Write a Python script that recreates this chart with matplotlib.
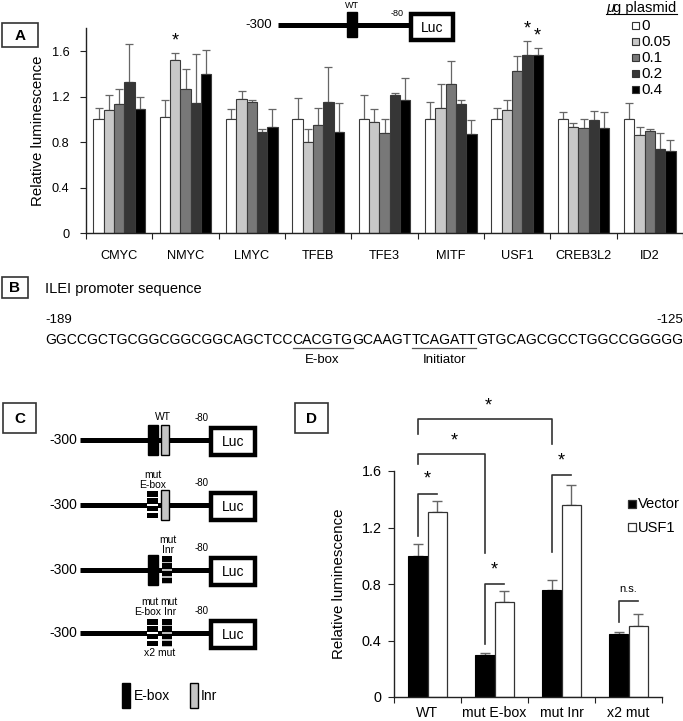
import matplotlib
matplotlib.use('Agg')
import matplotlib.pyplot as plt
from matplotlib.patches import Rectangle
import numpy as np

plt.rcParams['font.family'] = ['Liberation Sans', 'DejaVu Sans']

# ---- panel A data ----
factors = ['CMYC', 'NMYC', 'LMYC', 'TFEB', 'TFE3', 'MITF', 'USF1', 'CREB3L2', 'ID2']
doses = ['0', '0.05', '0.1', '0.2', '0.4']
dose_colors = ['#ffffff', '#c8c8c8', '#787878', '#363636', '#000000']
lum_0 = [1.00, 1.02, 1.00, 1.00, 1.00, 1.00, 1.00, 1.00, 1.00]
lum_005 = [1.08, 1.52, 1.18, 0.80, 0.98, 1.10, 1.08, 0.93, 0.86]
lum_01 = [1.13, 1.27, 1.15, 0.95, 0.88, 1.31, 1.42, 0.92, 0.90]
lum_02 = [1.33, 1.14, 0.89, 1.15, 1.21, 1.13, 1.565, 0.99, 0.74]
lum_04 = [1.09, 1.40, 0.93, 0.89, 1.17, 0.87, 1.565, 0.92, 0.72]
sd_0 = [0.10, 0.15, 0.09, 0.19, 0.21, 0.15, 0.10, 0.06, 0.14]
sd_005 = [0.13, 0.06, 0.07, 0.11, 0.11, 0.21, 0.09, 0.04, 0.07]
sd_01 = [0.14, 0.17, 0.02, 0.15, 0.12, 0.20, 0.14, 0.08, 0.01]
sd_02 = [0.33, 0.43, 0.02, 0.31, 0.02, 0.04, 0.125, 0.08, 0.14]
sd_04 = [0.11, 0.21, 0.16, 0.25, 0.19, 0.12, 0.065, 0.14, 0.10]
# significant bars: (factor index, dose index)
stars_a = [(1, 1), (6, 3), (6, 4)]

# ---- panel B ----
seq_pre = 'GGCCGCTGCGGCGGCGGCAGCTCC'
seq_ebox = 'CACGTG'
seq_mid = 'GCAAGT'
seq_inr = 'TCAGATT'
seq_post = 'GTGCAGCGCCTGGCCGGGGG'

# ---- panel D data ----
constructs = ['WT', 'mut E-box', 'mut Inr', 'x2 mut']
vector = [1.00, 0.30, 0.76, 0.445]
vector_sd = [0.08, 0.01, 0.07, 0.015]
usf1 = [1.31, 0.67, 1.36, 0.50]
usf1_sd = [0.08, 0.08, 0.14, 0.09]
# brackets: (group, y start, y top, label)
pair_brackets = [(0, 1.14, 1.44, '*'), (1, 0.375, 0.80, '*'),
                 (2, 1.025, 1.57, '*'), (3, 0.53, 0.68, 'n.s.')]
cross_brackets = [(0, 1, 1.65, 1.72, 1.02, '*'), (0, 2, 1.86, 1.965, 1.79, '*')]

W, H = 683, 721
fig = plt.figure(figsize=(W / 100, H / 100), dpi=100)


def frac(l, t, r, b):
    return [l / W, 1 - b / H, (r - l) / W, (b - t) / H]


def style_axes(ax):
    for s in ['top', 'right']:
        ax.spines[s].set_visible(False)
    for s in ['left', 'bottom']:
        ax.spines[s].set_color('#222222')
        ax.spines[s].set_linewidth(1.0)
    ax.tick_params(axis='y', direction='out', length=4, color='#222222')
    ax.tick_params(axis='x', which='major', direction='out', length=4, color='#222222')
    ax.tick_params(axis='x', which='minor', length=0)
    ax.patch.set_alpha(0)


# ================= panel A =================
axA = fig.add_axes(frac(86, 28.25, 683, 233))
style_axes(axA)
means = [lum_0, lum_005, lum_01, lum_02, lum_04]
sds = [sd_0, sd_005, sd_01, sd_02, sd_04]
bw = 0.155
xc = np.arange(len(factors)) + 0.5
for k in range(5):
    xs = xc + (k - 2) * bw
    axA.bar(xs, means[k], width=bw, color=dose_colors[k], edgecolor='#3a3a3a', linewidth=0.8, zorder=2)
    axA.errorbar(xs, means[k], yerr=[np.zeros(len(factors)), sds[k]], fmt='none',
                 ecolor='#666666', elinewidth=0.9, capsize=3, capthick=0.9, zorder=1)
for fi, di in stars_a:
    axA.text(xc[fi] + (di - 2) * bw, means[di][fi] + sds[di][fi] + 0.03, '*',
             ha='center', va='bottom', fontsize=13, clip_on=False)
axA.set_xlim(0, len(factors))
axA.set_ylim(0, 1.8)
axA.set_xticks(np.arange(len(factors) + 1))
axA.set_xticklabels([])
axA.set_xticks(xc, minor=True)
axA.set_xticklabels(factors, minor=True, fontsize=9.2)
axA.tick_params(axis='x', which='minor', pad=12)
axA.set_yticks([0, 0.4, 0.8, 1.2, 1.6])
axA.set_yticklabels(['0', '0.4', '0.8', '1.2', '1.6'], fontsize=9.2)
axA.tick_params(axis='y', pad=8)
axA.set_ylabel('Relative luminescence', fontsize=10.8, labelpad=5)

# ================= panel D =================
axD = fig.add_axes(frac(394, 471, 662, 697))
style_axes(axD)
bwd = 0.29
xd = np.arange(len(constructs)) + 0.5
axD.bar(xd - bwd / 2, vector, width=bwd, color='black', edgecolor='black', linewidth=0.8, zorder=2)
axD.bar(xd + bwd / 2, usf1, width=bwd, color='white', edgecolor='#333333', linewidth=0.9, zorder=2)
axD.errorbar(xd - bwd / 2, vector, yerr=[np.zeros(4), vector_sd], fmt='none', ecolor='#666666',
             elinewidth=1.0, capsize=3.5, capthick=1.0, zorder=1)
axD.errorbar(xd + bwd / 2, usf1, yerr=[np.zeros(4), usf1_sd], fmt='none', ecolor='#666666',
             elinewidth=1.0, capsize=3.5, capthick=1.0, zorder=1)
axD.set_xlim(0, len(constructs))
axD.set_ylim(0, 1.6)
axD.set_xticks(np.arange(len(constructs) + 1))
axD.set_xticklabels([])
axD.set_xticks(xd, minor=True)
axD.set_xticklabels(constructs, minor=True, fontsize=10.2)
axD.tick_params(axis='x', which='minor', pad=6.5)
axD.set_yticks([0, 0.4, 0.8, 1.2, 1.6])
axD.set_yticklabels(['0', '0.4', '0.8', '1.2', '1.6'], fontsize=10.4)
axD.tick_params(axis='y', pad=5)
axD.set_ylabel('Relative luminescence', fontsize=10.8, labelpad=11)
bk = dict(color='#333333', lw=1.2, clip_on=False)
for gi, y0, y1, lab in pair_brackets:
    xa, xb = xd[gi] - bwd / 2, xd[gi] + bwd / 2
    axD.plot([xa, xa, xb], [y0, y1, y1], **bk)
    if lab == '*':
        axD.text((xa + xb) / 2, y1 + 0.04, '*', ha='center', va='bottom', fontsize=13)
    else:
        axD.text((xa + xb) / 2, y1 + 0.05, lab, ha='center', va='bottom', fontsize=8)
for ga, gb, y0, y1, y2, lab in cross_brackets:
    xa, xb = xd[ga] - bwd / 2, xd[gb] - bwd / 2
    axD.plot([xa, xa, xb, xb], [y0, y1, y1, y2], **bk)
    axD.text((xa + xb) / 2 + 0.05, y1 + 0.035, lab, ha='center', va='bottom', fontsize=13, clip_on=False)

# ================= overlay for diagrams =================
ov = fig.add_axes([0, 0, 1, 1], zorder=5)
ov.set_xlim(0, W)
ov.set_ylim(H, 0)
ov.axis('off')
ov.patch.set_alpha(0)

# legend of panel D
for lab, fc, yy in [('Vector', 'black', 504), ('USF1', 'white', 527)]:
    ov.add_patch(Rectangle((628, yy - 4), 8, 8, facecolor=fc, edgecolor='#333333', lw=0.9))
    ov.text(638, yy + 0.5, lab, ha='left', va='center', fontsize=10.6)


def panel_box(x0, y0, x1, y1, lab):
    ov.add_patch(Rectangle((x0, y0), x1 - x0, y1 - y0, fill=False, edgecolor='#333333', lw=1.2))
    ov.text((x0 + x1) / 2, (y0 + y1) / 2 + 1, lab, ha='center', va='center', fontsize=11, fontweight='bold')


panel_box(2, 23, 38, 47, 'A')
panel_box(2, 277, 28, 298, 'B')
panel_box(3, 403, 36, 433, 'C')
panel_box(295, 403, 328, 433, 'D')

LW = 3.6


def luc(x, y, w=44, h=28):
    ov.add_patch(Rectangle((x, y - h / 2), w, h, facecolor='white', edgecolor='black', lw=3.2, zorder=3))
    ov.text(x + w / 2, y + 1, 'Luc', ha='center', va='center', fontsize=10, zorder=4)


def mut_box(x, y, w, gap_color):
    ov.add_patch(Rectangle((x, y - 14), w, 28, facecolor=gap_color, edgecolor='none', zorder=3))
    for i in range(4):
        ov.add_patch(Rectangle((x, y - 14 + i * 7.3), w, 5.5, facecolor='black', edgecolor='none', zorder=4))


# promoter in panel A
ov.plot([278, 411], [25, 25], color='black', lw=LW, solid_capstyle='butt')
ov.add_patch(Rectangle((347, 12), 10, 25, facecolor='black', edgecolor='black', zorder=3))
luc(411, 26.5, 42, 26)
ov.text(272, 25, '-300', ha='right', va='center', fontsize=9.5)
ov.text(352, 6, 'WT', ha='center', va='center', fontsize=6.5)
ov.text(397, 14, '-80', ha='center', va='center', fontsize=6.5)

# legend of panel A
ov.text(606, 8, 'μ', ha='left', va='center', fontsize=10.5, fontstyle='italic')
ov.text(613, 8, 'g plasmid', ha='left', va='center', fontsize=10.5)
ov.plot([606, 677], [14, 14], color='black', lw=0.8)
for k in range(5):
    yy = 25 + k * 16
    ov.add_patch(Rectangle((632, yy - 3.5), 7, 7, facecolor=dose_colors[k], edgecolor='#333333', lw=0.8))
    ov.text(641, yy + 0.5, doses[k], ha='left', va='center', fontsize=11)

# panel B
ov.text(45, 289, 'ILEI promoter sequence', ha='left', va='center', fontsize=10.5)
ov.text(45, 320, '-189', ha='left', va='center', fontsize=9.5)
ov.text(683, 320, '-125', ha='right', va='center', fontsize=9.5)
renderer = fig.canvas.get_renderer()
inv = ov.transData.inverted()
xpos = 45
seq_parts = [(seq_pre, None), (seq_ebox, 'E-box'), (seq_mid, None), (seq_inr, 'Initiator'), (seq_post, None)]
for part, lab in seq_parts:
    t = ov.text(xpos, 340, part, ha='left', va='center', fontsize=10.1)
    bb = t.get_window_extent(renderer)
    x1 = inv.transform((bb.x1, bb.y0))[0]
    if lab:
        ov.plot([xpos, x1], [348, 348], color='#555555', lw=0.9)
        ov.text((xpos + x1) / 2, 360, lab, ha='center', va='center', fontsize=9.5)
    xpos = x1

# panel C constructs
rows = [(440, 'wt', 'wt'), (505, 'mut', 'wt'), (570, 'wt', 'mut'), (633, 'mut', 'mut')]
for y, eb, inr in rows:
    ov.plot([80, 211], [y, y], color='black', lw=LW, solid_capstyle='butt')
    ov.text(77, y, '-300', ha='right', va='center', fontsize=10)
    ov.text(202, y - 22, '-80', ha='center', va='center', fontsize=7)
    luc(211, y + 1, 44, 27)
    if eb == 'wt':
        ov.add_patch(Rectangle((148, y - 15), 10, 30, facecolor='black', edgecolor='black', zorder=3))
    else:
        mut_box(147, y, 10.5, 'white')
    if inr == 'wt':
        ov.add_patch(Rectangle((161, y - 15), 7.5, 30, facecolor='#c4c4c4', edgecolor='black', lw=1.0, zorder=3))
    else:
        mut_box(162, y, 10, '#bbbbbb')
ov.text(163, 417, 'WT', ha='center', va='center', fontsize=7.5)
ov.text(153, 475, 'mut', ha='center', va='center', fontsize=7.5)
ov.text(153, 485, 'E-box', ha='center', va='center', fontsize=7.5)
ov.text(168, 540, 'mut', ha='center', va='center', fontsize=7.5)
ov.text(168, 550, 'Inr', ha='center', va='center', fontsize=7.5)
ov.text(150, 602, 'mut', ha='center', va='center', fontsize=7.5)
ov.text(169, 602, 'mut', ha='center', va='center', fontsize=7.5)
ov.text(148, 612, 'E-box', ha='center', va='center', fontsize=7.5)
ov.text(170, 612, 'Inr', ha='center', va='center', fontsize=7.5)
ov.text(160, 653, 'x2 mut', ha='center', va='center', fontsize=7.5)
ov.add_patch(Rectangle((122, 683), 8, 25, facecolor='black', edgecolor='black'))
ov.text(134, 696, 'E-box', ha='left', va='center', fontsize=10)
ov.add_patch(Rectangle((190, 683), 8, 25, facecolor='#c4c4c4', edgecolor='black', lw=1.0))
ov.text(201, 696, 'Inr', ha='left', va='center', fontsize=10)

fig.savefig('out.png', dpi=100)
